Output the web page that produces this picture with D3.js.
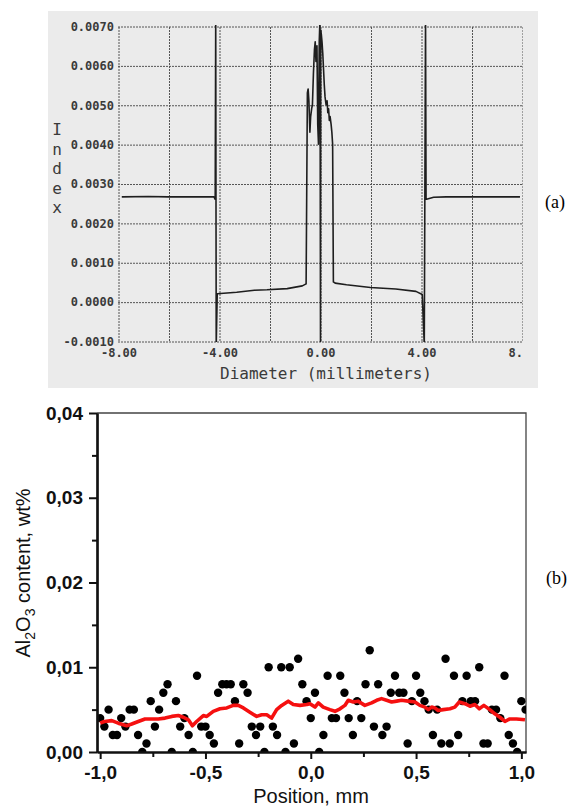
<!DOCTYPE html>
<html>
<head>
<meta charset="utf-8">
<script src="https://cdn.jsdelivr.net/npm/d3@7"></script>
<style>
  body { margin: 0; background: #fff; }
  svg { display: block; }
  .monoTick text { font-family: "DejaVu Sans Mono", monospace; font-size: 12px; font-weight: bold; fill: #3a3a3a; }
  .grid line { stroke: #555; stroke-width: 1; stroke-dasharray: 2,1; }
  .grid .domain { display: none; }
  .axisB text { font-family: "Liberation Sans", Arial, sans-serif; font-size: 19px; font-weight: bold; fill: #111; }
  .axisB line { stroke: #111; stroke-width: 2; }
  .axisB .domain { stroke: #111; stroke-width: 2.2; }
</style>
</head>
<body>
<script>
// ---------- panel (a) : refractive index profile ----------
var diamTicks = [-8, -6, -4, -2, 0, 2, 4, 6, 8];
var diamLabels = ["-8.00", "", "-4.00", "", "0.00", "", "4.00", "", "8.00"];
var indexTicks = [-0.001, 0, 0.001, 0.002, 0.003, 0.004, 0.005, 0.006, 0.007];

var diamX = [-7.85, -6.8, -6.0, -5.0, -4.2, -4.15, -4.13, -4.11, -4.07, -3.3, -2.6, -2.1, -1.3, -0.7, -0.55,
  -0.50, -0.47, -0.44, -0.40, -0.37, -0.33, -0.30, -0.26, -0.22, -0.19, -0.16, -0.12, -0.09, -0.06, -0.03,
  0.00, 0.02, 0.03, 0.05, 0.08, 0.11, 0.14, 0.17, 0.20, 0.24, 0.28, 0.31, 0.34, 0.37, 0.40, 0.44, 0.47, 0.50, 0.53,
  0.60, 1.05, 2.0, 3.0, 3.8, 4.05, 4.13, 4.18, 4.20, 4.22, 4.5, 5.0, 6.5, 7.92];
var indexVal = [0.00266, 0.00267, 0.00266, 0.00266, 0.00266, 0.0026, 0.0072, -0.0011, 0.0002, 0.00024, 0.00029, 0.0003, 0.00033, 0.0004, 0.00045,
  0.0053, 0.0054, 0.0051, 0.0043, 0.0047, 0.0049, 0.0050, 0.0058, 0.0064, 0.0066, 0.0061, 0.0065, 0.0045, 0.0040, 0.0066,
  0.0072, -0.0011, 0.0069, 0.0068, 0.0066, 0.0063, 0.0059, 0.0055, 0.0052, 0.0050, 0.0051, 0.0048, 0.0049, 0.0046, 0.0047, 0.0045, 0.0043, 0.0040, 0.0005,
  0.00047, 0.00043, 0.00036, 0.00032, 0.00026, 0.00018, -0.0011, 0.0072, 0.0026, 0.0026, 0.00265, 0.00266, 0.00266, 0.00266];

// ---------- panel (b) : Al2O3 content ----------
var posTicks = [-1, -0.5, 0, 0.5, 1];
var posMinor = [-0.75, -0.25, 0.25, 0.75];
var wtTicks = [0, 0.01, 0.02, 0.03, 0.04];
var wtMinor = [0.005, 0.015, 0.025, 0.035];

var posB = [-1.00, -0.98, -0.96, -0.94, -0.92, -0.90, -0.88, -0.86, -0.84, -0.82,
  -0.80, -0.78, -0.76, -0.74, -0.72, -0.70, -0.68, -0.66, -0.64, -0.62,
  -0.60, -0.58, -0.56, -0.54, -0.52, -0.50, -0.48, -0.46, -0.44, -0.42,
  -0.40, -0.38, -0.36, -0.34, -0.32, -0.30, -0.28, -0.26, -0.24, -0.22,
  -0.20, -0.18, -0.16, -0.14, -0.12, -0.10, -0.08, -0.06, -0.04, -0.02,
  0.00, 0.02, 0.04, 0.06, 0.08, 0.10, 0.12, 0.14, 0.16, 0.18,
  0.20, 0.22, 0.24, 0.26, 0.28, 0.30, 0.32, 0.34, 0.36, 0.38,
  0.40, 0.42, 0.44, 0.46, 0.48, 0.50, 0.52, 0.54, 0.56, 0.58,
  0.60, 0.62, 0.64, 0.66, 0.68, 0.70, 0.72, 0.74, 0.76, 0.78,
  0.80, 0.82, 0.84, 0.86, 0.88, 0.90, 0.92, 0.94, 0.96, 0.98,
  1.00, 1.02];
var al2o3 = [0.004, 0.003, 0.005, 0.002, 0.002, 0.004, 0.003, 0.005, 0.005, 0.002,
  0.000, 0.001, 0.006, 0.003, 0.005, 0.007, 0.008, 0.000, 0.006, 0.003,
  0.004, 0.002, 0.000, 0.009, 0.003, 0.003, 0.002, 0.001, 0.007, 0.008,
  0.008, 0.008, 0.006, 0.001, 0.008, 0.007, 0.003, 0.002, 0.003, 0.000,
  0.010, 0.003, 0.002, 0.010, 0.000, 0.010, 0.001, 0.011, 0.008, 0.006,
  0.004, 0.007, 0.000, 0.002, 0.009, 0.004, 0.004, 0.009, 0.007, 0.004,
  0.002, 0.006, 0.004, 0.008, 0.012, 0.003, 0.008, 0.002, 0.003, 0.007,
  0.009, 0.007, 0.007, 0.001, 0.006, 0.009, 0.007, 0.006, 0.005, 0.002,
  0.005, 0.001, 0.011, 0.001, 0.009, 0.002, 0.006, 0.009, 0.006, 0.006,
  0.010, 0.001, 0.001, 0.005, 0.005, 0.004, 0.009, 0.002, 0.001, 0.000,
  0.006, 0.005];

// smoothed trend (red)
var trendX = [-1.00, -0.98, -0.945, -0.914, -0.874, -0.850, -0.819, -0.787, -0.755, -0.724,
  -0.692, -0.660, -0.629, -0.605, -0.581, -0.562, -0.542, -0.510, -0.494, -0.463,
  -0.431, -0.399, -0.368, -0.344, -0.320, -0.289, -0.257, -0.233, -0.209, -0.186,
  -0.162, -0.138, -0.107, -0.083, -0.051, -0.019, -0.004, 0.020, 0.036, 0.059,
  0.091, 0.115, 0.139, 0.162, 0.178, 0.202, 0.225, 0.257, 0.289, 0.313,
  0.336, 0.360, 0.384, 0.408, 0.431, 0.463, 0.495, 0.518, 0.542, 0.558,
  0.574, 0.589, 0.605, 0.629, 0.661, 0.684, 0.705, 0.732, 0.756, 0.779,
  0.800, 0.822, 0.850, 0.874, 0.898, 0.922, 0.945, 0.977, 1.017];
var trendY = [0.0034, 0.0036, 0.0037, 0.0034, 0.0031, 0.0033, 0.0036, 0.0039, 0.0039, 0.0039,
  0.0040, 0.0042, 0.0043, 0.0041, 0.0038, 0.0031, 0.0036, 0.0043, 0.0042, 0.0048,
  0.0051, 0.0052, 0.0055, 0.0055, 0.0052, 0.0047, 0.0042, 0.0044, 0.0044, 0.0040,
  0.0050, 0.0055, 0.0060, 0.0056, 0.0055, 0.0056, 0.0057, 0.0053, 0.0058, 0.0053,
  0.0050, 0.0048, 0.0051, 0.0055, 0.0061, 0.0059, 0.0060, 0.0055, 0.0058, 0.0061,
  0.0063, 0.0061, 0.0059, 0.0060, 0.0061, 0.0060, 0.0059, 0.0055, 0.0053, 0.0050,
  0.0053, 0.0052, 0.0049, 0.0050, 0.0051, 0.0053, 0.0059, 0.0057, 0.0054, 0.0056,
  0.0051, 0.0055, 0.0050, 0.0045, 0.0041, 0.0036, 0.0039, 0.0039, 0.0038];

var width = 572, height = 807;
var svg = d3.select("body").append("svg")
  .attr("width", width)
  .attr("height", height);

var defs = svg.append("defs");

// ================= (a) =================
var mA = { left: 118, right: 522, top: 26, bottom: 341 };
var xA = d3.scaleLinear().domain([-8, 8]).range([mA.left, mA.right]);
var yA = d3.scaleLinear().domain([-0.001, 0.007]).range([mA.bottom, mA.top]);

svg.append("rect")
  .attr("x", 48).attr("y", 11)
  .attr("width", 490).attr("height", 377)
  .attr("fill", "#ebebeb");

defs.append("clipPath").attr("id", "clipA")
  .append("rect")
  .attr("x", mA.left - 1).attr("y", mA.top - 1)
  .attr("width", mA.right - mA.left + 2).attr("height", mA.bottom - mA.top + 2);
defs.append("clipPath").attr("id", "clipALabels")
  .append("rect")
  .attr("x", 40).attr("y", 0)
  .attr("width", 483).attr("height", 400);

// vertical grid + x labels (clip on an untransformed wrapper)
svg.append("g")
  .attr("clip-path", "url(#clipALabels)")
  .append("g")
  .attr("class", "grid monoTick")
  .attr("transform", `translate(0.5,${mA.bottom})`)
  .call(d3.axisBottom(xA)
    .tickValues(diamTicks)
    .tickSize(-(mA.bottom - mA.top))
    .tickPadding(7)
    .tickFormat((d, i) => diamLabels[i]));

// horizontal grid + y labels
svg.append("g")
  .attr("class", "grid monoTick")
  .attr("transform", `translate(${mA.left},0.5)`)
  .call(d3.axisLeft(yA)
    .tickValues(indexTicks)
    .tickSize(-(mA.right - mA.left))
    .tickPadding(4)
    .tickFormat(d => d3.format(".4f")(d).replace("−", "-")));

var lineA = d3.line()
  .x((d, i) => xA(diamX[i]))
  .y(d => yA(d));

svg.append("path")
  .datum(indexVal)
  .attr("clip-path", "url(#clipA)")
  .attr("fill", "none")
  .attr("stroke", "#1e1e1e")
  .attr("stroke-width", 1.6)
  .attr("stroke-linejoin", "round")
  .attr("d", lineA);

svg.append("text")
  .attr("x", 326).attr("y", 379)
  .attr("text-anchor", "middle")
  .style("font-family", "'DejaVu Sans Mono', monospace")
  .style("font-size", "16px")
  .style("fill", "#3a3a3a")
  .text("Diameter (millimeters)");

svg.append("g")
  .selectAll("text")
  .data("Index".split(""))
  .enter()
  .append("text")
  .attr("x", 57)
  .attr("y", (d, i) => 135 + i * 19.5)
  .attr("text-anchor", "middle")
  .style("font-family", "'DejaVu Sans Mono', monospace")
  .style("font-size", "16px")
  .style("fill", "#3a3a3a")
  .text(d => d);

svg.append("text")
  .attr("x", 545).attr("y", 208)
  .style("font-family", "'Liberation Serif', 'Times New Roman', serif")
  .style("font-size", "18px")
  .text("(a)");

// ================= (b) =================
var mB = { left: 97, right: 526, top: 413, bottom: 752 };
var xB = d3.scaleLinear().domain([-1.015, 1.022]).range([mB.left, mB.right]);
var yB = d3.scaleLinear().domain([0, 0.04]).range([mB.bottom, mB.top]);

defs.append("clipPath").attr("id", "clipB")
  .append("rect")
  .attr("x", mB.left).attr("y", mB.top)
  .attr("width", mB.right - mB.left).attr("height", mB.bottom - mB.top);

// top & right frame
svg.append("path")
  .attr("d", `M${mB.left},${mB.top}H${mB.right}V${mB.bottom}`)
  .attr("fill", "none")
  .attr("stroke", "#444")
  .attr("stroke-width", 1.3);

var comma = f => (d => f(d).replace("−", "-").replace(".", ","));

svg.append("g")
  .attr("clip-path", "url(#clipB)")
  .selectAll("circle")
  .data(al2o3)
  .enter()
  .append("circle")
  .attr("cx", (d, i) => xB(posB[i]))
  .attr("cy", d => yB(d))
  .attr("r", 4.2)
  .attr("fill", "#000");

var lineB = d3.line()
  .x((d, i) => xB(trendX[i]))
  .y(d => yB(d));

svg.append("path")
  .datum(trendY)
  .attr("clip-path", "url(#clipB)")
  .attr("fill", "none")
  .attr("stroke", "#f51010")
  .attr("stroke-width", 3.6)
  .attr("stroke-linejoin", "round")
  .attr("d", lineB);

// minor ticks
svg.append("g")
  .attr("class", "axisB")
  .attr("transform", `translate(${mB.left},0)`)
  .call(d3.axisLeft(yB).tickValues(wtMinor).tickSize(5).tickSizeOuter(0).tickFormat(""));
svg.append("g")
  .attr("class", "axisB")
  .attr("transform", `translate(0,${mB.bottom})`)
  .call(d3.axisBottom(xB).tickValues(posMinor).tickSize(5).tickSizeOuter(0).tickFormat(""));

// major axes
svg.append("g")
  .attr("class", "axisB")
  .attr("transform", `translate(${mB.left},0)`)
  .call(d3.axisLeft(yB).tickValues(wtTicks).tickSize(8).tickSizeOuter(0).tickPadding(6)
    .tickFormat(comma(d3.format(".2f"))));
svg.append("g")
  .attr("class", "axisB")
  .attr("transform", `translate(0,${mB.bottom})`)
  .call(d3.axisBottom(xB).tickValues(posTicks).tickSize(7).tickSizeOuter(0).tickPadding(7)
    .tickFormat(comma(d3.format(".1f"))));

svg.append("text")
  .attr("x", 311).attr("y", 803)
  .attr("text-anchor", "middle")
  .style("font-family", "'Liberation Sans', Arial, sans-serif")
  .style("font-size", "20px")
  .style("fill", "#111")
  .text("Position, mm");

var yTitle = svg.append("text")
  .attr("transform", "translate(30,573) rotate(-90)")
  .attr("text-anchor", "middle")
  .style("font-family", "'Liberation Sans', Arial, sans-serif")
  .style("font-size", "20px")
  .style("fill", "#111");
yTitle.append("tspan").text("Al");
yTitle.append("tspan").attr("dy", 5).style("font-size", "14px").text("2");
yTitle.append("tspan").attr("dy", -5).text("O");
yTitle.append("tspan").attr("dy", 5).style("font-size", "14px").text("3");
yTitle.append("tspan").attr("dy", -5).text(" content, wt%");

svg.append("text")
  .attr("x", 546).attr("y", 584)
  .style("font-family", "'Liberation Serif', 'Times New Roman', serif")
  .style("font-size", "18px")
  .text("(b)");
</script>
</body>
</html>
